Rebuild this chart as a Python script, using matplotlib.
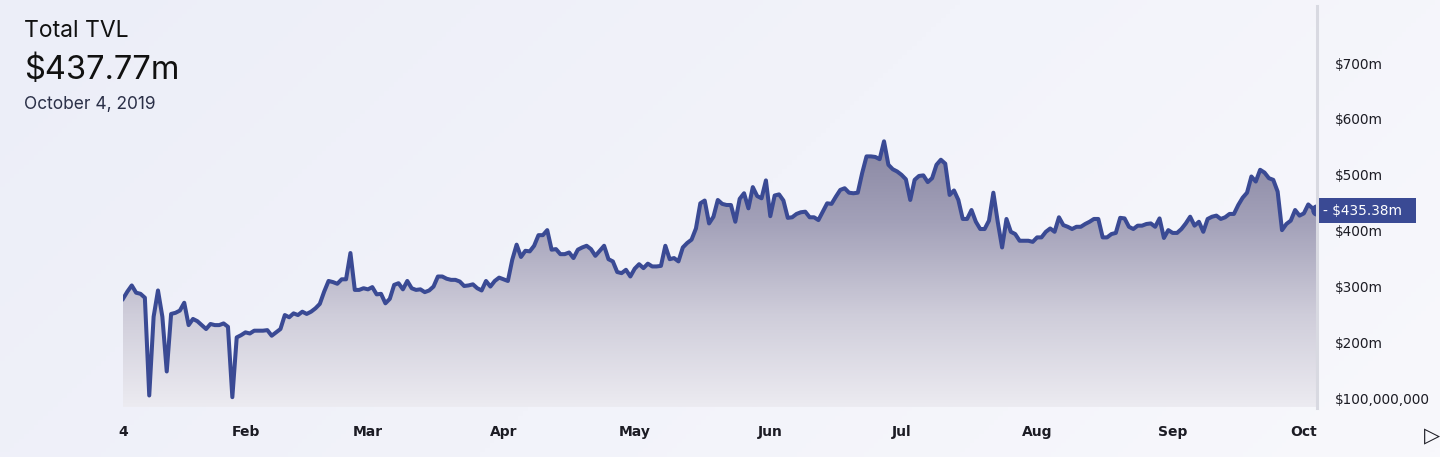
import numpy as np
import pandas as pd
import matplotlib
matplotlib.use('Agg')
import matplotlib.pyplot as plt
from matplotlib.colors import LinearSegmentedColormap
from matplotlib.lines import Line2D

# Total value locked, millions of USD, one value per day from Jan 4 2019
start_date = '2019-01-04'
tvl = [
    278, 291, 302, 289, 287, 280, 105, 246, 293, 246,
    148, 251, 253, 257, 271, 231, 242, 238, 231, 224,
    233, 231, 231, 234, 228, 102, 209, 213, 218, 216,
    221, 221, 221, 222, 212, 218, 224, 249, 245, 252,
    249, 255, 251, 255, 261, 269, 291, 310, 308, 305,
    313, 313, 360, 294, 294, 297, 295, 299, 286, 287,
    270, 278, 303, 306, 295, 310, 297, 294, 295, 290,
    293, 300, 318, 318, 314, 312, 312, 309, 301, 302,
    304, 297, 293, 310, 300, 310, 316, 313, 310, 348,
    375, 353, 364, 363, 373, 392, 392, 401, 366, 367,
    358, 358, 361, 351, 366, 370, 373, 367, 355, 364,
    373, 349, 345, 326, 324, 330, 318, 332, 340, 333,
    341, 336, 336, 337, 373, 349, 351, 345, 370, 378,
    384, 404, 449, 454, 413, 425, 455, 448, 446, 446,
    416, 457, 467, 440, 478, 462, 458, 490, 426, 463,
    465, 454, 423, 424, 430, 433, 434, 424, 424, 419,
    434, 449, 448, 461, 473, 476, 468, 467, 468, 503,
    533, 533, 532, 528, 560, 518, 510, 506, 500, 492,
    455, 491, 498, 499, 487, 494, 518, 527, 520, 464,
    472, 455, 421, 421, 437, 416, 403, 403, 418, 468,
    416, 370, 421, 398, 394, 382, 382, 382, 380, 388,
    388, 398, 404, 398, 424, 410, 407, 403, 407, 407,
    412, 416, 421, 421, 388, 388, 394, 396, 423, 422,
    407, 403, 409, 409, 412, 413, 407, 422, 387, 401,
    396, 396, 403, 413, 425, 409, 416, 398, 421, 425,
    427, 421, 424, 430, 430, 446, 459, 468, 497, 488,
    509, 504, 494, 491, 470, 401, 412, 418, 437, 427,
    431, 447, 440, 437.77,
]

month_ticks = ['2019-01-04', '2019-02-01', '2019-03-01', '2019-04-01', '2019-05-01',
               '2019-06-01', '2019-07-01', '2019-08-01', '2019-09-01', '2019-10-01']
month_labels = ['4', 'Feb', 'Mar', 'Apr', 'May', 'Jun', 'Jul', 'Aug', 'Sep', 'Oct']
value_ticks = [100, 200, 300, 400, 500, 600, 700]
value_labels = ['$100,000,000', '$200m', '$300m', '$400m', '$500m', '$600m', '$700m']
current_value = 435.38

dates = pd.date_range(start_date, periods=len(tvl), freq='D')
ymin, ymax = 84.4, 804

W, H = 1440, 457
fig = plt.figure(figsize=(W / 100, H / 100), dpi=100)

# fundo com gradiente suave
bg = fig.add_axes([0, 0, 1, 1], zorder=0)
gx = np.linspace(0, 1, 300)
gy = np.linspace(0, 1, 100)
GX, GY = np.meshgrid(gx, gy)
bg_cmap = LinearSegmentedColormap.from_list('bg', ['#eceef8', '#f8f8fc'])
bg.imshow(0.75 * GX + 0.25 * GY, cmap=bg_cmap, aspect='auto', extent=[0, 1, 0, 1])
bg.axis('off')

ax = fig.add_axes([123 / W, 50 / H, 1194 / W, 402 / H], zorder=1)
ax.patch.set_alpha(0)

# área com gradiente
fill = ax.fill_between(dates, tvl, ymin, color='none', lw=0)
area_cmap = LinearSegmentedColormap.from_list('area', ['#ecebf1', '#cfcdda', '#a3a1b9', '#85839f'])
grad = np.linspace(1, 0, 256).reshape(-1, 1)
x0 = matplotlib.dates.date2num(dates[0])
x1 = matplotlib.dates.date2num(dates[-1])
im = ax.imshow(grad, cmap=area_cmap, aspect='auto', extent=[x0, x1, ymin, 580], zorder=1)
im.set_clip_path(fill.get_paths()[0], transform=ax.transData)

ax.plot(dates, tvl, color='#3a4a94', lw=2.9, solid_joinstyle='round', zorder=3)
ax.plot(dates[-1], tvl[-1], 'o', ms=8, color='#3a4a94', zorder=4, clip_on=False)

ax.set_xlim(dates[0], dates[-1])
ax.set_ylim(ymin, ymax)
for s in ax.spines.values():
    s.set_visible(False)

ax.set_xticks(pd.to_datetime(month_ticks))
ax.set_xticklabels(month_labels, fontsize=10, color='#1c1c24', fontweight='bold')
ax.tick_params(axis='x', length=0, pad=13)
ax.yaxis.tick_right()
ax.set_yticks(value_ticks)
ax.set_yticklabels(value_labels, fontsize=9.8, color='#1c1c24')
ax.tick_params(axis='y', length=0, pad=13)

# linha vertical do eixo de preços
fig.add_artist(Line2D([1317 / W, 1317 / W], [1 - 6 / H, 1 - 408 / H], color='#d8d9e1', lw=2.2))

ax.annotate('- $' + f'{current_value:.2f}m  ', xy=(1, current_value),
            xycoords=('axes fraction', 'data'), xytext=(4, 0), textcoords='offset points',
            va='center', ha='left', color='white', fontsize=9.8,
            bbox=dict(boxstyle='square,pad=0.4', fc='#3a4a94', ec='none'), zorder=5)

fig.text(24 / W, 1 - 37 / H, 'Total TVL', fontsize=16.5, family=['Inter', 'DejaVu Sans'],
         color='#111111', va='baseline')
fig.text(24 / W, 1 - 79 / H, '$437.77m', fontsize=23.5, family=['Inter', 'DejaVu Sans'],
         color='#111111', va='baseline')
fig.text(24 / W, 1 - 109 / H, 'October 4, 2019', fontsize=12.5, family=['Inter', 'DejaVu Sans'],
         color='#2b3048', va='baseline')
fig.text(1432 / W, 1 - 436 / H, '▷', fontsize=15, color='#1c1c24', ha='center', va='center')

fig.savefig('out.png', dpi=100, facecolor=fig.get_facecolor())
